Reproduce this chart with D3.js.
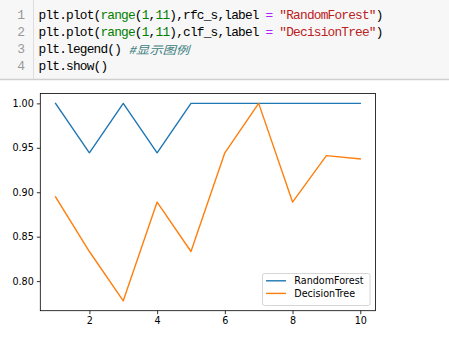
<!DOCTYPE html>
<html><head><meta charset="utf-8">
<script src="https://cdn.jsdelivr.net/npm/d3@7"></script>
<style>html,body{margin:0;padding:0;background:#fff;overflow:hidden}</style>
</head><body>
<svg id="c" width="449" height="341"></svg>
<script>
const xs = [1,2,3,4,5,6,7,8,9,10];
const rfcScores = [1.0, 0.9444, 1.0, 0.9444, 1.0, 1.0, 1.0, 1.0, 1.0, 1.0];
const clfScores = [0.8947, 0.8333, 0.7778, 0.8889, 0.8333, 0.9444, 1.0, 0.8889, 0.9412, 0.9375];
const seriesNames = ["RandomForest", "DecisionTree"];
const xTicks = [2,4,6,8,10];
const yTicks = [0.80,0.85,0.90,0.95,1.00];
const codeLines = [
  [["plt.plot(","#000"],["range","#008000"],["(","#000"],["1","#008000"],[",","#000"],["11","#008000"],["),rfc_s,label ","#000"],["=","#aa22ff"],[" ","#000"],["\"RandomForest\"","#ba2121"],[")","#000"]],
  [["plt.plot(","#000"],["range","#008000"],["(","#000"],["1","#008000"],[",","#000"],["11","#008000"],["),clf_s,label ","#000"],["=","#aa22ff"],[" ","#000"],["\"DecisionTree\"","#ba2121"],[")","#000"]],
  [["plt.legend() ","#000"]],
  [["plt.show()","#000"]]
];
const commentText = "#显示图例";

const svg = d3.select("#c");

// code cell
svg.append("rect").attr("x",0).attr("y",-2).attr("width",449).attr("height",81)
  .attr("fill","#f7f7f7");
svg.append("line").attr("x1",0).attr("x2",449).attr("y1",79.5).attr("y2",79.5)
  .attr("stroke","#cfcfcf").attr("stroke-width",1.5);
svg.append("line").attr("x1",33.5).attr("x2",33.5).attr("y1",0).attr("y2",79)
  .attr("stroke","#dddddd").attr("stroke-width",1);
codeLines.forEach((line,i)=>{
  const yb = 19 + i*17;
  svg.append("text").attr("x",25).attr("y",yb).attr("text-anchor","end")
    .attr("font-family","Liberation Mono, DejaVu Sans Mono, monospace").attr("font-size",13)
    .attr("fill","#999").text(i+1);
  const t = svg.append("text").attr("x",38.5).attr("y",yb)
    .attr("font-family","Liberation Mono, monospace").attr("font-size",12.8)
    .attr("letter-spacing",-0.8).attr("xml:space","preserve").style("white-space","pre");
  line.forEach(([s,c])=>{ t.append("tspan").attr("fill",c).text(s); });
});
svg.append("text").attr("transform","translate(128.3,53.5) scale(1.22,1)")
  .attr("font-family","'Noto Sans CJK SC', sans-serif").attr("font-size",11)
  .attr("font-style","italic").attr("fill","#408080").text(commentText);

// chart
const L=40.3,R=375.5,T=93.5,B=310.7;
const x = d3.scaleLinear().domain([0.55,10.45]).range([L,R]);
const y = d3.scaleLinear().domain([0.7667,1.0111]).range([B,T]);
const font = "DejaVu Sans, sans-serif";

const xa = svg.append("g").attr("transform",`translate(0,${B})`)
  .call(d3.axisBottom(x).tickValues(xTicks).tickFormat(d3.format("d")).tickSize(3.5).tickPadding(3));
const ya = svg.append("g").attr("transform",`translate(${L},0)`)
  .call(d3.axisLeft(y).tickValues(yTicks).tickFormat(d3.format(".2f")).tickSize(3.5).tickPadding(3));
[xa,ya].forEach(a=>{
  a.select(".domain").remove();
  a.selectAll("line").attr("stroke","#000").attr("stroke-width",0.8);
  a.selectAll("text").attr("font-family",font).attr("font-size",9.6).attr("fill","#000");
});

const line = d3.line().x((d,i)=>x(xs[i])).y(d=>y(d));
const colors = ["#1f77b4","#ff7f0e"];
[rfcScores, clfScores].forEach((s,k)=>{
  svg.append("path").datum(s).attr("d",line).attr("fill","none")
    .attr("stroke",colors[k]).attr("stroke-width",1.4).attr("stroke-linejoin","round").attr("stroke-linecap","square");
});

svg.append("rect").attr("x",L).attr("y",T).attr("width",R-L).attr("height",B-T)
  .attr("fill","none").attr("stroke","#000").attr("stroke-width",0.8);

// legend
const lg = svg.append("g");
lg.append("rect").attr("x",262.5).attr("y",273.5).attr("width",107.5).attr("height",32)
  .attr("rx",2).attr("fill","#fff").attr("fill-opacity",0.8).attr("stroke","#cccccc").attr("stroke-width",0.8);
seriesNames.forEach((n,k)=>{
  const yy = 280.8 + k*12.6;
  lg.append("line").attr("x1",266).attr("x2",286).attr("y1",yy).attr("y2",yy)
    .attr("stroke",colors[k]).attr("stroke-width",1.4);
  lg.append("text").attr("x",294.3).attr("y",yy+3.5).attr("font-family",font).attr("font-size",9.6)
    .attr("fill","#000").text(n);
});
</script>
</body></html>
